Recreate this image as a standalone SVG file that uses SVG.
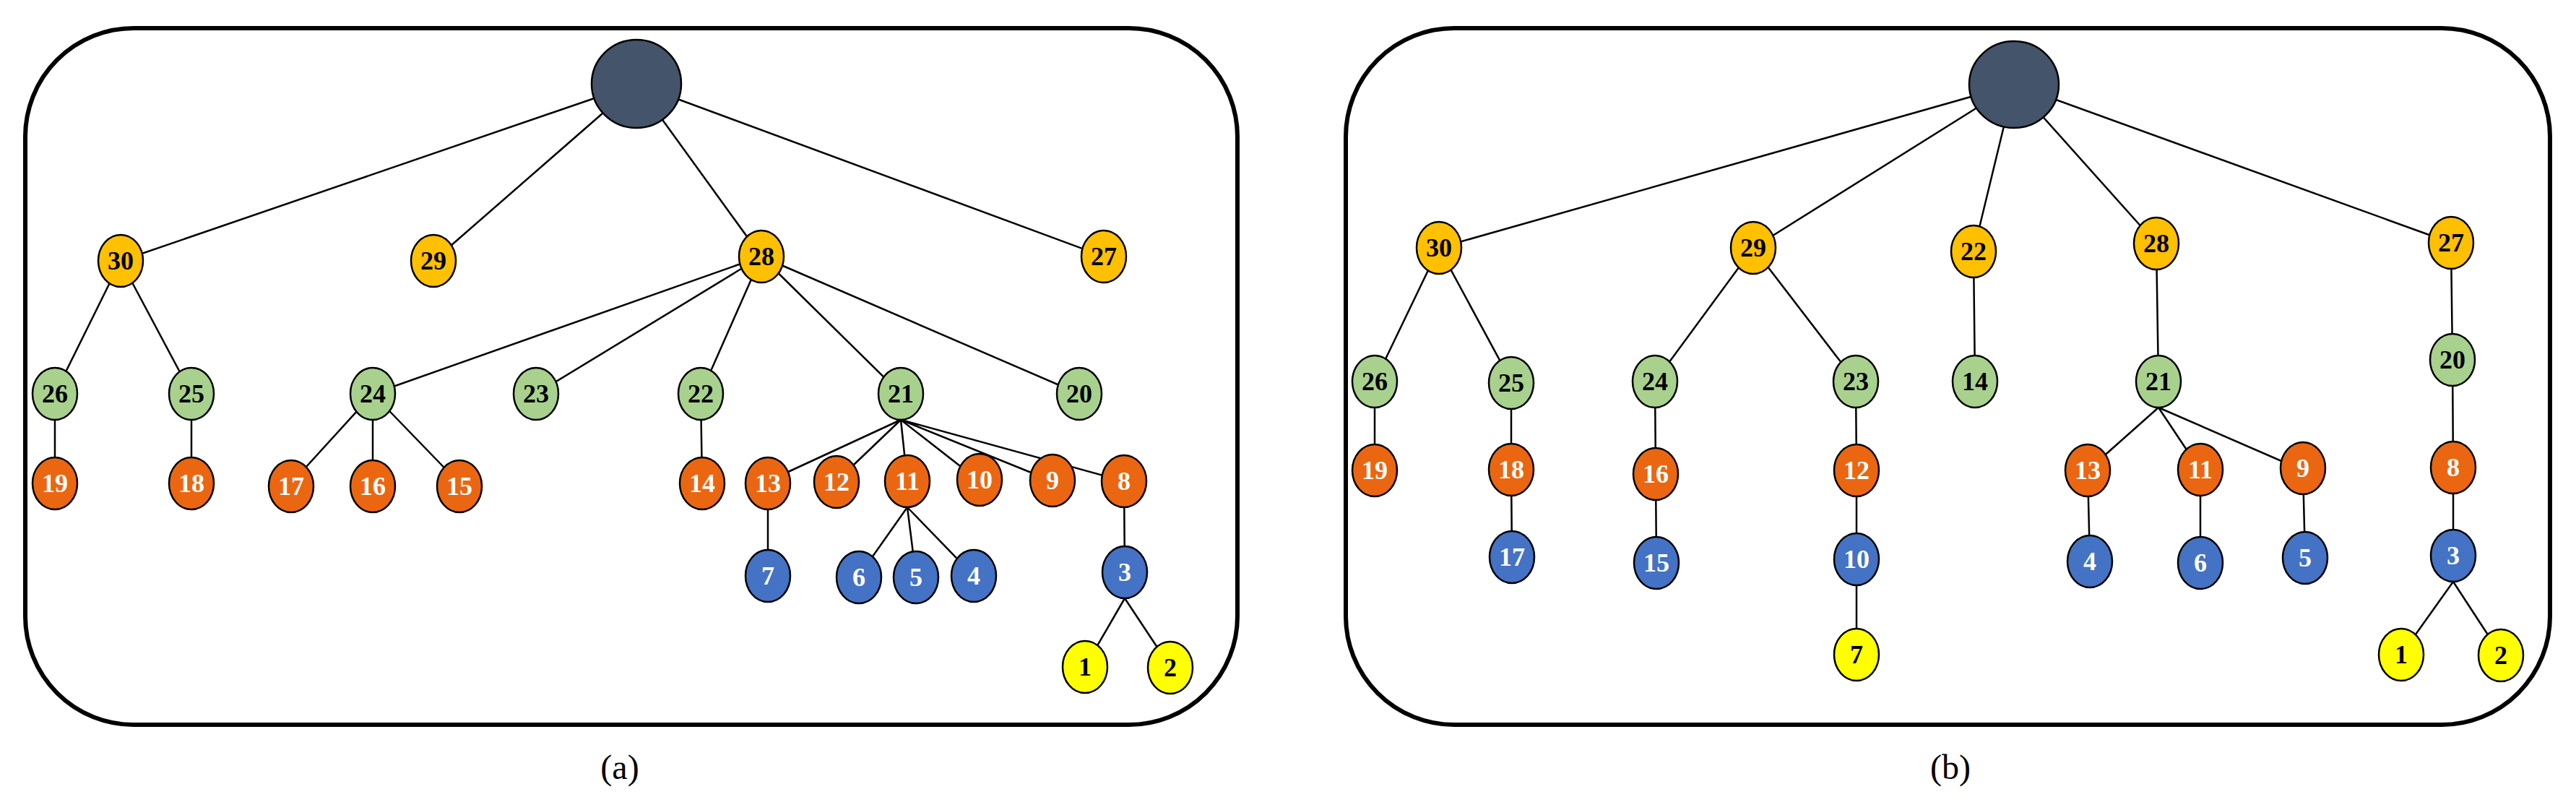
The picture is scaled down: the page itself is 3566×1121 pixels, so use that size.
<svg xmlns="http://www.w3.org/2000/svg" width="3566" height="1121" viewBox="0 0 3566 1121">
<style>
.f{fill:none;stroke:#000;stroke-width:6}
.e line{stroke:#000;stroke-width:2.5}
ellipse{stroke:#000;stroke-width:2.5}
.r{fill:#44546A}
.o1{fill:#FFC000}.g{fill:#A9D18E}.o2{fill:#EB6611}.b{fill:#4472C4}.y{fill:#FFFF00}
text{font-family:"Liberation Serif",serif;font-weight:bold;font-size:36px;text-anchor:middle}
.w{fill:#fff}.k{fill:#000}
.cap{font-weight:normal;font-size:48px}
</style>
<rect class="f" x="35" y="39" width="1678" height="964" rx="150"/>
<rect class="f" x="1863" y="39" width="1667" height="964" rx="150"/>
<text class="cap" x="858" y="1078">(a)</text>
<text class="cap" x="2700" y="1078">(b)</text>
<g class="e" id="edges-a">
<line x1="881" y1="116" x2="167" y2="361"/><line x1="881" y1="116" x2="600" y2="361"/><line x1="881" y1="116" x2="1054" y2="355"/><line x1="881" y1="116" x2="1528" y2="355"/>
<line x1="167" y1="361" x2="76" y2="545"/><line x1="167" y1="361" x2="265" y2="545"/>
<line x1="1054" y1="355" x2="516" y2="545"/><line x1="1054" y1="355" x2="742" y2="545"/><line x1="1054" y1="355" x2="970" y2="545"/><line x1="1054" y1="355" x2="1247" y2="545"/><line x1="1054" y1="355" x2="1494" y2="545"/>
<line x1="76" y1="545" x2="76" y2="669"/><line x1="265" y1="545" x2="265" y2="669"/>
<line x1="516" y1="545" x2="403" y2="669"/><line x1="516" y1="545" x2="516" y2="669"/><line x1="516" y1="545" x2="636" y2="669"/>
<line x1="970" y1="545" x2="972" y2="669"/>
<line x1="1247" y1="581" x2="1063" y2="666"/><line x1="1247" y1="581" x2="1158" y2="666"/><line x1="1247" y1="581" x2="1256" y2="666"/><line x1="1247" y1="581" x2="1356" y2="666"/><line x1="1247" y1="581" x2="1457" y2="666"/><line x1="1247" y1="581" x2="1556" y2="666"/>
<line x1="1063" y1="666" x2="1063" y2="797"/>
<line x1="1256" y1="702" x2="1189" y2="797"/><line x1="1256" y1="702" x2="1268" y2="797"/><line x1="1256" y1="702" x2="1348" y2="797"/>
<line x1="1556" y1="666" x2="1557" y2="792"/>
<line x1="1557" y1="828" x2="1502" y2="923"/><line x1="1557" y1="828" x2="1620" y2="923"/>
</g>
<g class="e" id="edges-b">
<line x1="2788" y1="117" x2="1992" y2="343"/><line x1="2788" y1="117" x2="2427" y2="343"/><line x1="2788" y1="117" x2="2732" y2="348"/><line x1="2788" y1="117" x2="2985" y2="337"/><line x1="2788" y1="117" x2="3393" y2="336"/>
<line x1="1992" y1="343" x2="1903" y2="528"/><line x1="1992" y1="343" x2="2092" y2="528"/>
<line x1="2427" y1="343" x2="2291" y2="528"/><line x1="2427" y1="343" x2="2569" y2="528"/>
<line x1="2732" y1="348" x2="2734" y2="528"/><line x1="2985" y1="337" x2="2988" y2="528"/><line x1="3393" y1="336" x2="3395" y2="498"/>
<line x1="1903" y1="528" x2="1903" y2="651"/><line x1="2092" y1="528" x2="2092" y2="651"/><line x1="2291" y1="528" x2="2292" y2="656"/><line x1="2569" y1="528" x2="2570" y2="651"/>
<line x1="2988" y1="564" x2="2890" y2="651"/><line x1="2988" y1="564" x2="3046" y2="651"/><line x1="2988" y1="564" x2="3188" y2="651"/>
<line x1="3395" y1="498" x2="3396" y2="651"/>
<line x1="2092" y1="651" x2="2093" y2="771"/><line x1="2292" y1="656" x2="2293" y2="779"/><line x1="2570" y1="651" x2="2570" y2="774"/>
<line x1="2890" y1="651" x2="2893" y2="776"/><line x1="3046" y1="651" x2="3046" y2="779"/><line x1="3188" y1="651" x2="3191" y2="772"/><line x1="3396" y1="651" x2="3396" y2="769"/>
<line x1="2570" y1="774" x2="2570" y2="906"/>
<line x1="3396" y1="805" x2="3324" y2="906"/><line x1="3396" y1="805" x2="3462" y2="906"/>
</g>
<g id="a-root"><ellipse class="r" cx="881" cy="116" rx="62" ry="61"/></g>
<g id="a30"><ellipse class="o1" cx="167" cy="361" rx="31" ry="36"/><text class="k" x="167" y="373">30</text></g>
<g id="a29"><ellipse class="o1" cx="600" cy="361" rx="31" ry="36"/><text class="k" x="600" y="373">29</text></g>
<g id="a28"><ellipse class="o1" cx="1054" cy="355" rx="31" ry="36"/><text class="k" x="1054" y="367">28</text></g>
<g id="a27"><ellipse class="o1" cx="1528" cy="355" rx="31" ry="36"/><text class="k" x="1528" y="367">27</text></g>
<g id="a26"><ellipse class="g" cx="76" cy="545" rx="31" ry="36"/><text class="k" x="76" y="557">26</text></g>
<g id="a25"><ellipse class="g" cx="265" cy="545" rx="31" ry="36"/><text class="k" x="265" y="557">25</text></g>
<g id="a24"><ellipse class="g" cx="516" cy="545" rx="31" ry="36"/><text class="k" x="516" y="557">24</text></g>
<g id="a23"><ellipse class="g" cx="742" cy="545" rx="31" ry="36"/><text class="k" x="742" y="557">23</text></g>
<g id="a22"><ellipse class="g" cx="970" cy="545" rx="31" ry="36"/><text class="k" x="970" y="557">22</text></g>
<g id="a21"><ellipse class="g" cx="1247" cy="545" rx="31" ry="36"/><text class="k" x="1247" y="557">21</text></g>
<g id="a20"><ellipse class="g" cx="1494" cy="545" rx="31" ry="36"/><text class="k" x="1494" y="557">20</text></g>
<g id="a19"><ellipse class="o2" cx="76" cy="669" rx="31" ry="36"/><text class="w" x="76" y="681">19</text></g>
<g id="a18"><ellipse class="o2" cx="265" cy="669" rx="31" ry="36"/><text class="w" x="265" y="681">18</text></g>
<g id="a17"><ellipse class="o2" cx="403" cy="673" rx="31" ry="36"/><text class="w" x="403" y="685">17</text></g>
<g id="a16"><ellipse class="o2" cx="516" cy="673" rx="31" ry="36"/><text class="w" x="516" y="685">16</text></g>
<g id="a15"><ellipse class="o2" cx="636" cy="673" rx="31" ry="36"/><text class="w" x="636" y="685">15</text></g>
<g id="a14"><ellipse class="o2" cx="972" cy="669" rx="31" ry="36"/><text class="w" x="972" y="681">14</text></g>
<g id="a13"><ellipse class="o2" cx="1063" cy="669" rx="31" ry="36"/><text class="w" x="1063" y="681">13</text></g>
<g id="a12"><ellipse class="o2" cx="1158" cy="667" rx="31" ry="36"/><text class="w" x="1158" y="679">12</text></g>
<g id="a11"><ellipse class="o2" cx="1256" cy="666" rx="31" ry="36"/><text class="w" x="1256" y="678">11</text></g>
<g id="a10"><ellipse class="o2" cx="1356" cy="664" rx="31" ry="36"/><text class="w" x="1356" y="676">10</text></g>
<g id="a9"><ellipse class="o2" cx="1457" cy="665" rx="31" ry="36"/><text class="w" x="1457" y="677">9</text></g>
<g id="a8"><ellipse class="o2" cx="1556" cy="666" rx="31" ry="36"/><text class="w" x="1556" y="678">8</text></g>
<g id="a7"><ellipse class="b" cx="1063" cy="797" rx="31" ry="36"/><text class="w" x="1063" y="809">7</text></g>
<g id="a6"><ellipse class="b" cx="1189" cy="799" rx="31" ry="36"/><text class="w" x="1189" y="811">6</text></g>
<g id="a5"><ellipse class="b" cx="1268" cy="799" rx="31" ry="36"/><text class="w" x="1268" y="811">5</text></g>
<g id="a4"><ellipse class="b" cx="1348" cy="797" rx="31" ry="36"/><text class="w" x="1348" y="809">4</text></g>
<g id="a3"><ellipse class="b" cx="1557" cy="792" rx="31" ry="36"/><text class="w" x="1557" y="804">3</text></g>
<g id="a1"><ellipse class="y" cx="1502" cy="923" rx="31" ry="36"/><text class="k" x="1502" y="935">1</text></g>
<g id="a2"><ellipse class="y" cx="1620" cy="924" rx="31" ry="36"/><text class="k" x="1620" y="936">2</text></g>
<g id="b-root"><ellipse class="r" cx="2788" cy="117" rx="62" ry="60"/></g>
<g id="b30"><ellipse class="o1" cx="1992" cy="343" rx="31" ry="36"/><text class="k" x="1992" y="355">30</text></g>
<g id="b29"><ellipse class="o1" cx="2427" cy="343" rx="31" ry="36"/><text class="k" x="2427" y="355">29</text></g>
<g id="b22"><ellipse class="o1" cx="2732" cy="348" rx="31" ry="36"/><text class="k" x="2732" y="360">22</text></g>
<g id="b28"><ellipse class="o1" cx="2985" cy="337" rx="31" ry="36"/><text class="k" x="2985" y="349">28</text></g>
<g id="b27"><ellipse class="o1" cx="3393" cy="336" rx="31" ry="36"/><text class="k" x="3393" y="348">27</text></g>
<g id="b26"><ellipse class="g" cx="1903" cy="528" rx="31" ry="36"/><text class="k" x="1903" y="540">26</text></g>
<g id="b25"><ellipse class="g" cx="2092" cy="530" rx="31" ry="36"/><text class="k" x="2092" y="542">25</text></g>
<g id="b24"><ellipse class="g" cx="2291" cy="528" rx="31" ry="36"/><text class="k" x="2291" y="540">24</text></g>
<g id="b23"><ellipse class="g" cx="2569" cy="528" rx="31" ry="36"/><text class="k" x="2569" y="540">23</text></g>
<g id="b14"><ellipse class="g" cx="2734" cy="528" rx="31" ry="36"/><text class="k" x="2734" y="540">14</text></g>
<g id="b21"><ellipse class="g" cx="2988" cy="528" rx="31" ry="36"/><text class="k" x="2988" y="540">21</text></g>
<g id="b20"><ellipse class="g" cx="3395" cy="498" rx="31" ry="36"/><text class="k" x="3395" y="510">20</text></g>
<g id="b19"><ellipse class="o2" cx="1903" cy="651" rx="31" ry="36"/><text class="w" x="1903" y="663">19</text></g>
<g id="b18"><ellipse class="o2" cx="2092" cy="650" rx="31" ry="36"/><text class="w" x="2092" y="662">18</text></g>
<g id="b16"><ellipse class="o2" cx="2292" cy="656" rx="31" ry="36"/><text class="w" x="2292" y="668">16</text></g>
<g id="b12"><ellipse class="o2" cx="2570" cy="651" rx="31" ry="36"/><text class="w" x="2570" y="663">12</text></g>
<g id="b13"><ellipse class="o2" cx="2890" cy="651" rx="31" ry="36"/><text class="w" x="2890" y="663">13</text></g>
<g id="b11"><ellipse class="o2" cx="3046" cy="650" rx="31" ry="36"/><text class="w" x="3046" y="662">11</text></g>
<g id="b9"><ellipse class="o2" cx="3188" cy="648" rx="31" ry="36"/><text class="w" x="3188" y="660">9</text></g>
<g id="b8"><ellipse class="o2" cx="3396" cy="647" rx="31" ry="36"/><text class="w" x="3396" y="659">8</text></g>
<g id="b17"><ellipse class="b" cx="2093" cy="771" rx="31" ry="36"/><text class="w" x="2093" y="783">17</text></g>
<g id="b15"><ellipse class="b" cx="2293" cy="779" rx="31" ry="36"/><text class="w" x="2293" y="791">15</text></g>
<g id="b10"><ellipse class="b" cx="2570" cy="774" rx="31" ry="36"/><text class="w" x="2570" y="786">10</text></g>
<g id="b4"><ellipse class="b" cx="2893" cy="777" rx="31" ry="36"/><text class="w" x="2893" y="789">4</text></g>
<g id="b6"><ellipse class="b" cx="3046" cy="779" rx="31" ry="36"/><text class="w" x="3046" y="791">6</text></g>
<g id="b5"><ellipse class="b" cx="3191" cy="772" rx="31" ry="36"/><text class="w" x="3191" y="784">5</text></g>
<g id="b3"><ellipse class="b" cx="3396" cy="769" rx="31" ry="36"/><text class="w" x="3396" y="781">3</text></g>
<g id="b7"><ellipse class="y" cx="2570" cy="906" rx="31" ry="36"/><text class="k" x="2570" y="918">7</text></g>
<g id="b1"><ellipse class="y" cx="3324" cy="906" rx="31" ry="36"/><text class="k" x="3324" y="918">1</text></g>
<g id="b2"><ellipse class="y" cx="3462" cy="907" rx="31" ry="36"/><text class="k" x="3462" y="919">2</text></g>
</svg>
